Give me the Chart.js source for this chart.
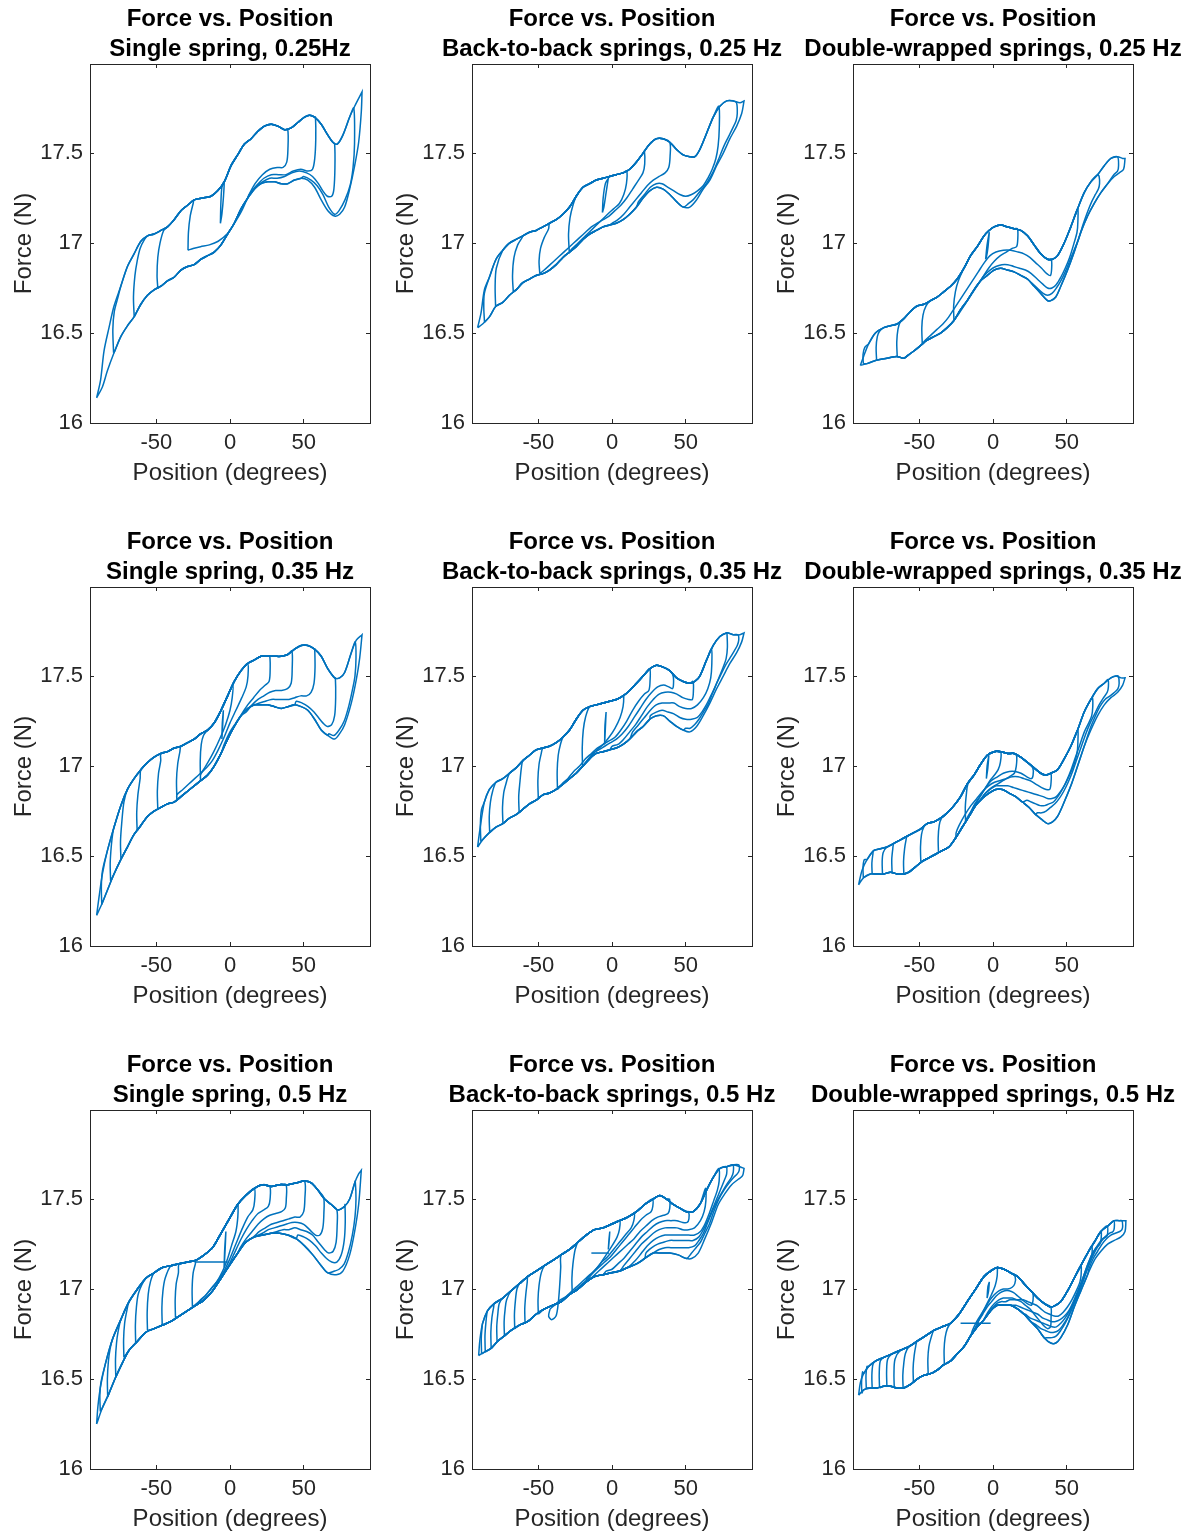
<!DOCTYPE html>
<html>
<head>
<meta charset="utf-8">
<script src="https://cdn.jsdelivr.net/npm/chart.js@4.4.1/dist/chart.umd.min.js"></script>
<style>
html, body { margin: 0; padding: 0; background: #fff; width: 1198px; height: 1532px; overflow: hidden; }
canvas { position: absolute; }
</style>
</head>
<body>
<script>
// Axis ticks and labels shared by every panel
const xTicks = [-50, 0, 50];
const yTicks = [16, 16.5, 17, 17.5];
const mainTitle = 'Force vs. Position';
const xLabel = 'Position (degrees)';
const yLabel = 'Force (N)';
const subTitles = [
  'Single spring, 0.25Hz', 'Back-to-back springs, 0.25 Hz', 'Double-wrapped springs, 0.25 Hz',
  'Single spring, 0.35 Hz', 'Back-to-back springs, 0.35 Hz', 'Double-wrapped springs, 0.35 Hz',
  'Single spring, 0.5 Hz', 'Back-to-back springs, 0.5 Hz', 'Double-wrapped springs, 0.5 Hz'
];

// Each panel: upper branch (left to right), lower branch (left to right),
// and the inner cycles as a rise at the left turn-around plus a drop at the right turn-around.
// [position in degrees, force in N]

// ---- Single spring, 0.25 Hz ----
const upper_s025 = [[-90.5,16.14],[-87.8,16.24],[-85.5,16.40],[-82.1,16.53],[-78.7,16.65],[-74.1,16.76],[-69.6,16.87],[-65.1,16.94],[-60.5,17.01],[-56,17.04],[-51.5,17.05],[-46.9,17.07],[-42.4,17.09],[-37.9,17.13],[-33.3,17.18],[-28.8,17.21],[-24.3,17.24],[-18.6,17.25],[-12.9,17.26],[-8.4,17.29],[-3.9,17.34],[0.7,17.43],[5.2,17.49],[9.8,17.55],[14.3,17.58],[18.8,17.62],[23.4,17.65],[27.9,17.66],[32.4,17.65],[37,17.63],[41.5,17.64],[46,17.67],[50.6,17.70],[54,17.71],[57.4,17.70],[61.9,17.66],[66.4,17.60],[69.8,17.56],[72.8,17.55],[76.6,17.60],[81.2,17.70],[84.6,17.76],[89.6,17.84]];
const lower_s025 = [[-90.5,16.14],[-86.6,16.20],[-83.2,16.29],[-78.7,16.39],[-74.1,16.48],[-69.6,16.54],[-65.1,16.59],[-60.5,16.66],[-56,16.71],[-51.5,16.74],[-46.9,16.76],[-42.4,16.79],[-37.9,16.81],[-33.3,16.85],[-28.8,16.87],[-24.3,16.88],[-19.7,16.91],[-15.2,16.93],[-10.7,16.95],[-6.1,16.99],[-1.6,17.05],[2.9,17.11],[7.5,17.19],[12,17.25],[16.6,17.30],[21.1,17.33],[25.6,17.34],[30.2,17.34],[34.7,17.33],[39.2,17.33],[43.8,17.35],[48.3,17.36],[52.8,17.35],[57.4,17.31],[61.9,17.24],[66.4,17.18],[71,17.15],[74.4,17.16],[77.8,17.20],[81.2,17.30],[84.6,17.43],[87.3,17.56],[89.1,17.73],[89.6,17.84]];
const rises_s025 = [
  [[-79,16.39],[-79.5,16.52],[-78.5,16.62],[-76,16.70]],
  [[-65,16.59],[-65.5,16.70],[-64.5,16.82],[-63,16.90],[-61,16.97],[-58,17.02]],
  [[-49,16.75],[-49.5,16.82],[-49,16.92],[-47.5,17.00],[-45,17.07]],
  [[-28.5,16.96],[-28.2,17.06],[-27,17.15],[-25,17.22]],
  [[-6.5,17.11],[-6.2,17.22],[-5.5,17.31]]
];
const drops_s025 = [
  [[84,17.75],[84.5,17.55],[83.5,17.42],[81.5,17.32],[78,17.24],[74,17.18],[71,17.16],[67,17.20],[63,17.27],[59,17.32],[55,17.35],[50,17.37]],
  [[71,17.55],[71.2,17.42],[70.5,17.30],[69,17.26],[66,17.26],[63,17.29],[60,17.33],[56,17.37],[52,17.39],[47,17.40],[42,17.39],[37,17.37],[32,17.36],[27,17.36],[22,17.34],[17,17.31]],
  [[58,17.70],[58.2,17.58],[57.5,17.47],[56,17.41],[53,17.40],[48,17.41],[43,17.40],[38,17.38],[33,17.38],[28,17.38],[23,17.36],[18,17.32],[13,17.27]],
  [[39.2,17.63],[39.3,17.52],[38.5,17.45],[36,17.42],[32,17.42],[27,17.41],[22,17.38],[17,17.33],[13,17.27],[8,17.18],[3,17.11],[-2,17.05],[-8,17.01],[-14,16.99],[-20,16.98],[-25,16.97],[-28.5,16.96]],
  [[-4,17.34],[-4.5,17.25],[-5.5,17.16],[-6.5,17.11]]
];

// ---- Back-to-back springs, 0.25 Hz ----
const upper_b025 = [[-91.2,16.53],[-88.9,16.61],[-86.6,16.74],[-83.2,16.81],[-78.7,16.91],[-74.1,16.96],[-69.6,17.00],[-65.1,17.02],[-60.5,17.04],[-56,17.06],[-51.5,17.07],[-46.9,17.09],[-42.4,17.11],[-37.9,17.13],[-33.3,17.16],[-28.8,17.20],[-24.3,17.26],[-19.7,17.31],[-15.2,17.33],[-10.7,17.35],[-6.1,17.36],[-1.6,17.37],[2.9,17.38],[7.5,17.39],[12,17.41],[16.6,17.45],[21.1,17.50],[25.6,17.55],[30.2,17.58],[34.7,17.58],[39.2,17.56],[43.8,17.52],[48.3,17.49],[52.8,17.48],[56.2,17.48],[59.6,17.52],[64.2,17.61],[68.7,17.70],[73.2,17.76],[77.8,17.79],[82.3,17.79],[86.8,17.78],[89.6,17.79]];
const lower_b025 = [[-91.2,16.53],[-87.8,16.55],[-83.2,16.59],[-78.7,16.65],[-74.1,16.67],[-69.6,16.71],[-65.1,16.74],[-60.5,16.78],[-56,16.80],[-51.5,16.82],[-46.9,16.83],[-42.4,16.85],[-37.9,16.88],[-33.3,16.92],[-28.8,16.95],[-24.3,16.98],[-19.7,17.02],[-15.2,17.05],[-10.7,17.07],[-6.1,17.09],[-1.6,17.10],[2.9,17.11],[7.5,17.13],[12,17.16],[16.6,17.20],[21.1,17.25],[25.6,17.29],[30.2,17.31],[34.7,17.30],[39.2,17.27],[43.8,17.23],[48.3,17.20],[52.8,17.20],[57.4,17.24],[61.9,17.30],[66.4,17.35],[71,17.43],[75.5,17.50],[80,17.58],[84.6,17.65],[88,17.72],[89.6,17.79]];
const rises_b025 = [
  [[-86.5,16.56],[-87,16.64],[-86.6,16.72]],
  [[-79,16.65],[-79.3,16.76],[-78.5,16.86]],
  [[-67,16.73],[-67.5,16.82],[-66.5,16.92],[-64,16.99],[-61,17.03]],
  [[-49,16.83],[-49.5,16.90],[-48.5,16.97],[-46,17.03],[-43,17.08]],
  [[-29,16.95],[-29.5,17.05],[-28.5,17.14],[-26.5,17.21]],
  [[-6.5,17.17],[-6,17.25],[-4.5,17.33],[-2.5,17.36]]
];
const drops_b025 = [
  [[84.5,17.78],[85,17.72],[84.2,17.68],[82,17.64],[79,17.59],[76,17.54],[73,17.48],[70,17.42],[67,17.37],[64,17.33],[61,17.30],[58,17.27],[55,17.24],[52,17.22]],
  [[72.5,17.76],[72.8,17.64],[72,17.54],[70.5,17.47],[68,17.41],[65,17.36],[62,17.32],[58,17.29],[54,17.27],[50,17.26],[46,17.27],[42,17.29],[38,17.31],[34,17.33],[30,17.33],[26,17.31],[22,17.27],[18,17.23]],
  [[39.2,17.56],[39.4,17.48],[38.5,17.42],[36,17.39],[32,17.37],[28,17.35],[24,17.32],[20,17.28],[16,17.24],[12,17.20],[8,17.16],[4,17.13],[0,17.11]],
  [[22,17.51],[22.2,17.44],[21,17.39],[18,17.35],[14,17.30],[10,17.25],[6,17.21],[2,17.18],[-2,17.15],[-6,17.13],[-10,17.11],[-14,17.09],[-18,17.06],[-22,17.03],[-26,17.00],[-30,16.97],[-34,16.94],[-38,16.91],[-42,16.88],[-46,16.85],[-49,16.83]],
  [[10,17.40],[9.8,17.33],[8,17.27],[5,17.22],[1,17.19],[-3,17.16],[-8,17.12],[-13,17.08],[-18,17.04],[-23,17.00],[-27,16.97],[-29,16.95]],
  [[-2.5,17.36],[-4,17.28],[-5.5,17.20],[-6.5,17.17]]
];

// ---- Double-wrapped springs, 0.25 Hz ----
const upper_d025 = [[-90,16.32],[-87.8,16.37],[-84.4,16.44],[-79.8,16.50],[-74.1,16.53],[-69.6,16.54],[-65.1,16.55],[-60.5,16.58],[-56,16.62],[-51.5,16.65],[-46.9,16.66],[-42.4,16.68],[-37.9,16.70],[-33.3,16.73],[-28.8,16.76],[-24.3,16.80],[-19.7,16.86],[-15.2,16.93],[-10.7,16.98],[-6.1,17.04],[-2.7,17.07],[0.7,17.09],[5.2,17.10],[9.8,17.09],[14.3,17.08],[18.8,17.07],[23.4,17.04],[27.9,16.99],[32.4,16.94],[37,16.91],[40.4,16.91],[43.8,16.93],[48.3,17.00],[52.8,17.09],[57.4,17.19],[61.9,17.28],[66.4,17.34],[71,17.38],[75.5,17.43],[80,17.47],[84.6,17.48],[88,17.47],[89.6,17.47]];
const lower_d025 = [[-90,16.32],[-85.5,16.33],[-78.7,16.35],[-71.9,16.36],[-65.1,16.37],[-60.5,16.36],[-57.1,16.38],[-53.7,16.40],[-49.2,16.43],[-44.7,16.46],[-40.1,16.48],[-35.6,16.50],[-31.1,16.53],[-26.5,16.57],[-22,16.63],[-17.5,16.68],[-12.9,16.74],[-8.4,16.79],[-3.9,16.82],[0.7,16.85],[5.2,16.86],[9.8,16.85],[14.3,16.84],[18.8,16.82],[23.4,16.80],[27.9,16.76],[32.4,16.72],[37,16.68],[39.2,16.68],[42.6,16.70],[46,16.76],[50.6,16.85],[55.1,16.95],[59.6,17.06],[64.2,17.15],[68.7,17.22],[73.2,17.28],[77.8,17.33],[82.3,17.37],[85.7,17.39],[88.6,17.41],[89.6,17.47]];
const rises_d025 = [
  [[-88,16.33],[-88.2,16.38],[-87,16.42]],
  [[-79,16.35],[-79.3,16.42],[-78.5,16.48],[-77,16.51]],
  [[-65,16.37],[-65.3,16.45],[-64.5,16.52],[-63,16.56]],
  [[-48,16.44],[-48.3,16.53],[-47.5,16.60],[-45.5,16.65]],
  [[-26.5,16.57],[-26.7,16.65],[-25.5,16.73],[-23.5,16.79]],
  [[-5,16.91],[-4,16.99],[-2.5,17.06]]
];
const drops_d025 = [
  [[84.5,17.48],[85.2,17.43],[84.5,17.40],[82,17.38]],
  [[72,17.37],[72.3,17.33],[71.5,17.30],[69.5,17.27],[67,17.23],[64,17.17],[61,17.10],[58,17.02],[55,16.96],[52,16.90],[49,16.84],[46,16.79],[43,16.75],[40,16.72],[37,16.71],[34,16.72],[30,16.75],[26,16.78]],
  [[57.4,17.19],[57.6,17.12],[57,17.06],[55,17.00],[52,16.92],[49,16.86],[46,16.81],[43,16.77],[40,16.75],[37,16.75],[34,16.77],[30,16.80],[26,16.83],[22,16.85],[18,16.86],[14,16.87],[10,16.88],[6,16.88],[2,16.87],[-2,16.85],[-6,16.82]],
  [[39.5,16.91],[39.8,16.86],[39,16.82],[36.5,16.83],[33,16.86],[29,16.89],[25,16.92],[21,16.94],[17,16.95],[12,16.96],[7,16.96],[2,16.95],[-2,16.93],[-6,16.89],[-10,16.84],[-14,16.79],[-18,16.74],[-22,16.69],[-26,16.64],[-30,16.59],[-34,16.55],[-38,16.52],[-42,16.49],[-46,16.46],[-48,16.44]],
  [[16.6,17.08],[16.8,17.02],[16,16.98],[13,16.97],[9,16.95],[5,16.93],[1,16.90],[-3,16.86],[-7,16.81],[-11,16.76],[-15,16.71],[-19,16.66],[-23,16.61],[-26.5,16.57]],
  [[-2.5,17.06],[-3.5,16.97],[-4.5,16.92],[-5,16.91]]
];

// ---- Single spring, 0.35 Hz ----
const upper_s035 = [[-90.5,16.17],[-88.9,16.27],[-86.6,16.40],[-83.2,16.53],[-78.7,16.66],[-74.1,16.78],[-69.6,16.87],[-65.1,16.93],[-60.5,16.98],[-56,17.02],[-51.5,17.05],[-46.9,17.07],[-42.4,17.08],[-37.9,17.10],[-33.3,17.11],[-28.8,17.13],[-24.3,17.15],[-19.7,17.18],[-15.2,17.20],[-10.7,17.24],[-6.1,17.31],[-1.6,17.39],[2.9,17.47],[7.5,17.53],[12,17.57],[16.6,17.59],[21.1,17.61],[25.6,17.61],[30.2,17.61],[34.7,17.61],[39.2,17.62],[43.8,17.65],[48.3,17.67],[52.8,17.67],[57.4,17.65],[61.9,17.61],[66.4,17.54],[71,17.49],[74.4,17.49],[77.8,17.52],[82.3,17.63],[85.7,17.70],[89.6,17.73]];
const lower_s035 = [[-90.5,16.17],[-86.6,16.24],[-83.2,16.31],[-78.7,16.40],[-74.1,16.48],[-69.6,16.55],[-65.1,16.62],[-60.5,16.67],[-56,16.72],[-51.5,16.75],[-46.9,16.77],[-42.4,16.79],[-37.9,16.80],[-33.3,16.83],[-28.8,16.86],[-24.3,16.89],[-19.7,16.92],[-15.2,16.95],[-10.7,17.00],[-6.1,17.07],[-1.6,17.15],[2.9,17.22],[7.5,17.28],[12,17.32],[16.6,17.34],[21.1,17.34],[25.6,17.34],[30.2,17.33],[34.7,17.32],[39.2,17.33],[43.8,17.34],[48.3,17.33],[52.8,17.31],[57.4,17.26],[61.9,17.20],[66.4,17.17],[71,17.15],[74.4,17.18],[77.8,17.23],[82.3,17.35],[85.7,17.48],[88,17.60],[89.6,17.73]];
const rises_s035 = [
  [[-87,16.23],[-87.3,16.33],[-86.5,16.42]],
  [[-81,16.36],[-81.3,16.46],[-80.5,16.56],[-79.5,16.63]],
  [[-74,16.48],[-74.3,16.58],[-73.5,16.68],[-72,16.80]],
  [[-63,16.64],[-63.3,16.74],[-62.5,16.84],[-61,16.93]],
  [[-49,16.76],[-49.3,16.86],[-48.5,16.96],[-47,17.03]],
  [[-36,16.81],[-36.3,16.92],[-35.5,17.01],[-34,17.08]],
  [[-20,16.92],[-20.2,17.03],[-19.5,17.12],[-18,17.17]],
  [[-5.5,17.15],[-5.2,17.24],[-4.5,17.31]]
];
const drops_s035 = [
  [[85,17.69],[85.5,17.60],[84.8,17.50],[83,17.42],[80.5,17.33],[77.5,17.25],[74,17.20],[70.5,17.17],[67,17.18]],
  [[71.5,17.49],[71.7,17.38],[71,17.28],[69,17.23],[66,17.22],[63,17.24],[60,17.27],[57,17.30],[53,17.33],[49,17.35],[45,17.36]],
  [[57.5,17.65],[57.7,17.55],[57,17.46],[55,17.41],[52,17.39],[48,17.39],[44,17.38],[40,17.37],[36,17.37],[32,17.37],[28,17.37],[24,17.36],[20,17.35]],
  [[42,17.64],[42.2,17.54],[41.5,17.46],[39,17.43],[35,17.42],[31,17.42],[27,17.41],[23,17.39],[19,17.37],[15,17.34],[11,17.30]],
  [[27,17.61],[27.2,17.52],[26.5,17.47],[24,17.45],[20,17.42],[16,17.38],[12,17.34],[8,17.29],[4,17.24],[0,17.19],[-4,17.12]],
  [[12,17.57],[12.2,17.50],[11,17.44],[8,17.38],[4,17.31],[0,17.24],[-4,17.16],[-8,17.09],[-12,17.03],[-16,16.99],[-20,16.96],[-24,16.93],[-28,16.90],[-32,16.87],[-36,16.84]],
  [[2,17.45],[1.5,17.38],[0,17.31],[-3,17.23],[-7,17.15],[-11,17.08],[-15,17.02],[-18,16.98],[-20,16.95]],
  [[-4.5,17.31],[-5,17.22],[-5.5,17.15]]
];

// ---- Back-to-back springs, 0.35 Hz ----
const upper_b035 = [[-91.2,16.55],[-89.6,16.65],[-86.6,16.80],[-83.2,16.87],[-78.7,16.91],[-74.1,16.93],[-69.6,16.96],[-65.1,16.99],[-60.5,17.03],[-56,17.06],[-51.5,17.09],[-46.9,17.10],[-42.4,17.11],[-37.9,17.13],[-33.3,17.16],[-28.8,17.20],[-24.3,17.26],[-19.7,17.31],[-15.2,17.33],[-10.7,17.34],[-6.1,17.35],[-1.6,17.36],[2.9,17.37],[7.5,17.39],[12,17.42],[16.6,17.46],[21.1,17.50],[25.6,17.54],[30.2,17.56],[34.7,17.55],[39.2,17.53],[43.8,17.49],[48.3,17.47],[52.8,17.46],[56.2,17.47],[59.6,17.50],[64.2,17.59],[68.7,17.67],[73.2,17.72],[77.8,17.74],[82.3,17.73],[86.8,17.73],[89.6,17.74]];
const lower_b035 = [[-91.2,16.55],[-87.8,16.59],[-83.2,16.63],[-78.7,16.66],[-74.1,16.68],[-69.6,16.71],[-65.1,16.73],[-60.5,16.76],[-56,16.79],[-51.5,16.81],[-46.9,16.84],[-42.4,16.85],[-37.9,16.87],[-33.3,16.90],[-28.8,16.93],[-24.3,16.96],[-19.7,17.00],[-15.2,17.04],[-10.7,17.07],[-6.1,17.08],[-1.6,17.09],[2.9,17.10],[7.5,17.12],[12,17.15],[16.6,17.19],[21.1,17.22],[25.6,17.26],[30.2,17.28],[34.7,17.28],[39.2,17.25],[43.8,17.22],[48.3,17.20],[52.8,17.19],[57.4,17.22],[61.9,17.28],[66.4,17.35],[71,17.43],[75.5,17.50],[80,17.57],[84.6,17.63],[88,17.69],[89.6,17.74]];
const rises_b035 = [
  [[-89,16.58],[-89.3,16.68],[-88.5,16.76]],
  [[-83,16.63],[-83.3,16.72],[-82.5,16.80],[-81,16.86]],
  [[-74,16.68],[-74.3,16.77],[-73.5,16.85],[-72,16.90]],
  [[-63,16.74],[-63.3,16.83],[-62.5,16.91],[-61.5,16.99]],
  [[-50,16.82],[-50.3,16.92],[-49.5,17.01],[-48,17.07]],
  [[-37,16.87],[-37.2,16.97],[-36.5,17.06],[-35,17.12]],
  [[-20,17.00],[-20.2,17.10],[-19.5,17.20],[-18,17.27]],
  [[-5,17.12],[-4.8,17.22],[-4,17.30]]
];
const drops_b035 = [
  [[85.5,17.73],[86,17.70],[85,17.67],[83,17.64],[80,17.60],[77,17.56],[74,17.51],[71,17.46],[68,17.40],[65,17.34],[62,17.30],[59,17.26],[56,17.23],[53,17.21],[50,17.21]],
  [[78,17.74],[78.3,17.66],[77.5,17.60],[75.5,17.55],[73,17.50],[70,17.44],[67,17.39],[64,17.34],[61,17.30],[58,17.27],[54,17.26],[50,17.26],[46,17.27],[42,17.29],[38,17.30],[34,17.31],[30,17.30],[26,17.28]],
  [[67.5,17.65],[67.7,17.56],[67,17.49],[65,17.43],[62,17.38],[58,17.34],[54,17.32],[50,17.32],[46,17.33],[42,17.35],[38,17.35],[34,17.35],[30,17.34],[26,17.31],[22,17.27],[18,17.23],[14,17.19]],
  [[55,17.47],[55.2,17.41],[54.5,17.37],[52,17.37],[48,17.38],[44,17.40],[40,17.41],[36,17.41],[32,17.40],[28,17.37],[24,17.33],[20,17.28],[16,17.23],[12,17.19],[8,17.15],[4,17.12],[0,17.11]],
  [[41.5,17.50],[41.7,17.45],[41,17.43],[38.5,17.44],[35,17.45],[31,17.44],[27,17.41],[23,17.37],[19,17.32],[15,17.27],[11,17.22],[7,17.18],[3,17.15],[-1,17.13],[-5,17.11],[-9,17.09],[-13,17.07]],
  [[25.6,17.54],[25.8,17.47],[25,17.42],[22,17.40],[18,17.36],[14,17.31],[10,17.25],[6,17.20],[2,17.16],[-2,17.14],[-6,17.12],[-10,17.10],[-14,17.07],[-18,17.04],[-22,17.00],[-26,16.97],[-30,16.93],[-34,16.90],[-37,16.87]],
  [[8,17.39],[7.5,17.33],[5.5,17.27],[2,17.21],[-2,17.16],[-6,17.12],[-10,17.09],[-14,17.06],[-17,17.03],[-20,17.00]],
  [[-4,17.30],[-4.5,17.21],[-5,17.12]]
];

// ---- Double-wrapped springs, 0.35 Hz ----
const upper_d035 = [[-91.2,16.34],[-88.9,16.42],[-85.5,16.48],[-81,16.53],[-76.4,16.54],[-71.9,16.55],[-67.3,16.57],[-62.8,16.59],[-58.3,16.61],[-53.7,16.63],[-49.2,16.65],[-44.7,16.68],[-40.1,16.69],[-35.6,16.71],[-31.1,16.74],[-26.5,16.78],[-22,16.83],[-17.5,16.90],[-12.9,16.95],[-8.4,17.01],[-3.9,17.06],[0.7,17.08],[5.2,17.08],[9.8,17.07],[14.3,17.07],[18.8,17.05],[23.4,17.02],[27.9,16.99],[32.4,16.96],[35.8,16.95],[39.2,16.96],[43.8,16.98],[48.3,17.04],[52.8,17.11],[57.4,17.20],[61.9,17.30],[66.4,17.37],[71,17.43],[75.5,17.46],[80,17.49],[83.4,17.50],[86.8,17.49],[89.6,17.49]];
const lower_d035 = [[-91.2,16.34],[-87.8,16.38],[-83.2,16.40],[-78.7,16.40],[-74.1,16.40],[-69.6,16.41],[-65.1,16.40],[-60.5,16.40],[-57.1,16.41],[-52.6,16.44],[-48,16.47],[-43.6,16.49],[-39,16.51],[-34.5,16.53],[-30,16.55],[-25.4,16.60],[-20.9,16.66],[-16.3,16.72],[-11.8,16.78],[-7.3,16.82],[-2.7,16.85],[1.8,16.87],[6.3,16.87],[10.9,16.85],[15.4,16.83],[20,16.80],[24.5,16.77],[29,16.73],[33.6,16.70],[37,16.68],[40.4,16.69],[43.8,16.72],[48.3,16.80],[52.8,16.89],[57.4,17.00],[61.9,17.11],[66.4,17.20],[71,17.28],[75.5,17.34],[80,17.38],[84.6,17.41],[88,17.45],[89.6,17.49]];
const rises_d035 = [
  [[-88,16.38],[-88.2,16.44],[-87.3,16.48]],
  [[-82,16.40],[-82.2,16.46],[-81.5,16.51]],
  [[-75,16.40],[-75.2,16.47],[-74.5,16.52]],
  [[-68.5,16.41],[-68.7,16.48],[-68,16.54]],
  [[-60.5,16.40],[-60.7,16.47],[-60,16.54],[-59,16.59]],
  [[-49,16.47],[-49.2,16.55],[-48.5,16.62],[-47,16.66]],
  [[-37,16.52],[-37.2,16.60],[-36.5,16.67],[-35,16.71]],
  [[-18.6,16.69],[-18.8,16.77],[-18,16.85],[-17,16.90]],
  [[-4.5,16.93],[-4,17.00],[-2.8,17.06]]
];
const drops_d035 = [
  [[85,17.50],[85.6,17.46],[84.8,17.43],[82.5,17.41],[79.5,17.39],[76,17.37],[72.5,17.33],[69,17.27],[66,17.21]],
  [[78,17.48],[78.3,17.44],[77.5,17.41],[75,17.38],[72,17.34],[69,17.29],[66,17.24],[63,17.18],[60,17.11],[57,17.04],[54,16.97],[51,16.91],[48,16.86],[45,16.82],[42,16.79],[39,16.77],[36,16.75],[33,16.74],[30,16.74]],
  [[67.5,17.38],[67.7,17.33],[67,17.28],[65,17.24],[62,17.19],[59,17.12],[56,17.05],[53,16.98],[50,16.92],[47,16.87],[44,16.83],[41,16.80],[38,16.79],[35,16.78],[32,16.78],[29,16.79],[26,16.80],[23,16.81]],
  [[57.4,17.20],[57.6,17.13],[57,17.07],[55,17.01],[52,16.95],[49,16.90],[46,16.86],[43,16.83],[40,16.82],[37,16.82],[34,16.83],[30,16.84],[26,16.85],[22,16.86],[18,16.87],[14,16.88],[10,16.89],[6,16.89],[2,16.89],[-2,16.87],[-6,16.84]],
  [[39.2,16.96],[39.4,16.91],[38.5,16.87],[36,16.87],[33,16.88],[29,16.90],[25,16.92],[21,16.93],[17,16.94],[13,16.94],[9,16.93],[5,16.92],[1,16.91],[-3,16.89],[-7,16.86],[-11,16.82],[-15,16.78],[-19,16.73],[-23,16.67],[-25,16.63]],
  [[27,16.99],[27.2,16.95],[26,16.93],[23,16.94],[19,16.96],[15,16.97],[11,16.97],[7,16.96],[3,16.94],[-1,16.92],[-5,16.88],[-9,16.83],[-13,16.78]],
  [[16,17.06],[15.8,17.00],[14.5,16.96],[11,16.94],[7,16.92],[3,16.90],[-1,16.88],[-5,16.85],[-9,16.81]],
  [[5.2,17.08],[5,17.02],[3.5,16.98],[1,16.95],[-2,16.92],[-5,16.88],[-8,16.84],[-11,16.80],[-14,16.76],[-17,16.72],[-18.6,16.69]],
  [[-2.8,17.06],[-3.5,16.99],[-4.5,16.93]]
];

// ---- Single spring, 0.5 Hz ----
const upper_s05 = [[-90.5,16.25],[-89.6,16.35],[-87.8,16.46],[-84.4,16.59],[-79.8,16.72],[-74.1,16.83],[-68.5,16.93],[-62.8,17.00],[-57.1,17.06],[-51.5,17.09],[-45.8,17.12],[-40.1,17.13],[-34.5,17.14],[-28.8,17.15],[-23.1,17.16],[-17.5,17.19],[-11.8,17.23],[-6.1,17.31],[-0.5,17.39],[5.2,17.47],[10.7,17.52],[16.6,17.56],[22.2,17.58],[27.9,17.57],[33.6,17.58],[39.2,17.58],[44.9,17.59],[50.6,17.60],[55.1,17.59],[59.6,17.55],[64.2,17.50],[68.7,17.47],[73.2,17.44],[77.8,17.46],[81.2,17.50],[84.6,17.59],[87.3,17.64],[89.1,17.66]];
const lower_s05 = [[-90.5,16.25],[-86.6,16.34],[-82.1,16.42],[-77.6,16.51],[-73,16.59],[-68.5,16.66],[-62.8,16.71],[-57.1,16.76],[-51.5,16.78],[-45.8,16.80],[-40.1,16.82],[-34.5,16.85],[-28.8,16.88],[-23.1,16.91],[-17.5,16.94],[-11.8,16.99],[-6.1,17.06],[-0.5,17.13],[5.2,17.20],[10.7,17.26],[16.6,17.29],[22.2,17.30],[27.9,17.31],[33.6,17.31],[39.2,17.30],[44.9,17.28],[50.6,17.24],[56.2,17.19],[61.9,17.13],[66.4,17.09],[72.1,17.08],[76.6,17.10],[81.2,17.19],[84.6,17.32],[87.3,17.47],[89.1,17.66]];
const rises_s05 = [
  [[-88,16.32],[-88.3,16.41],[-87.6,16.48]],
  [[-83,16.40],[-83.2,16.50],[-82.5,16.60],[-81.3,16.67]],
  [[-77.5,16.51],[-77.7,16.61],[-77,16.70],[-76,16.76]],
  [[-72,16.62],[-72.2,16.72],[-71.5,16.81],[-70,16.88]],
  [[-64,16.70],[-64.2,16.80],[-63.5,16.90],[-62,16.98]],
  [[-56,16.77],[-56.2,16.87],[-55.5,16.97],[-54,17.04]],
  [[-46,16.80],[-46.2,16.90],[-45.5,16.99],[-44,17.06]],
  [[-37,16.84],[-37.2,16.94],[-36.5,17.03],[-35,17.09]],
  [[-25.5,16.90],[-25.7,17.00],[-25,17.09],[-23.5,17.14]],
  [[-4,17.12],[-3.6,17.22],[-2.8,17.32]]
];
const drops_s05 = [
  [[85,17.60],[85.5,17.50],[84.8,17.40],[83,17.30],[80.5,17.21],[77.5,17.14],[74,17.11],[71,17.10]],
  [[78,17.47],[78.2,17.37],[77.5,17.27],[75.5,17.19],[72.5,17.15],[69,17.15],[65.5,17.17],[62,17.20],[58,17.24],[54,17.27],[50,17.29],[46,17.30]],
  [[72.5,17.44],[72.7,17.35],[72,17.26],[70,17.21],[67,17.20],[64,17.22],[60,17.26],[56,17.30],[52,17.32],[48,17.33],[44,17.34],[40,17.33],[36,17.33],[32,17.32]],
  [[63.5,17.51],[63.7,17.42],[63,17.34],[61,17.30],[58,17.30],[54,17.33],[50,17.36],[46,17.37],[42,17.37],[38,17.36],[34,17.35],[30,17.34],[26,17.33],[22,17.31]],
  [[50.6,17.60],[50.8,17.50],[50,17.43],[47.5,17.40],[44,17.40],[40,17.39],[36,17.38],[32,17.37],[28,17.36],[24,17.34],[20,17.32],[16,17.29]],
  [[38,17.58],[38.2,17.50],[37.5,17.45],[35,17.43],[31,17.42],[27,17.41],[23,17.39],[19,17.36],[15,17.32],[11,17.28],[7,17.23]],
  [[27,17.57],[27.2,17.50],[26,17.46],[23,17.44],[19,17.42],[15,17.38],[11,17.33],[7,17.27],[3,17.20],[-1,17.13]],
  [[16.5,17.56],[16.7,17.49],[15.5,17.44],[12,17.40],[8,17.33],[4,17.25],[0,17.17],[-4,17.10],[-8,17.05],[-12,17.01],[-16,16.97],[-20,16.94]],
  [[5.5,17.47],[5.3,17.40],[4,17.32],[1,17.24],[-2,17.16],[-5,17.10],[-9,17.04],[-13,17.00],[-17,16.96],[-21,16.93],[-25.5,16.90]],
  [[-2.8,17.32],[-3.3,17.22],[-4,17.12]]
];
const flat_s05 = [[-24,17.15],[-1.5,17.15]];

// ---- Back-to-back springs, 0.5 Hz ----
const upper_b05 = [[-90.5,16.63],[-89.6,16.72],[-87.8,16.81],[-84.4,16.88],[-79.8,16.92],[-74.1,16.95],[-68.5,16.99],[-62.8,17.03],[-57.1,17.07],[-51.5,17.10],[-45.8,17.13],[-40.1,17.16],[-34.5,17.19],[-28.8,17.22],[-23.1,17.26],[-17.5,17.30],[-11.8,17.33],[-6.1,17.34],[-0.5,17.36],[5.2,17.38],[10.7,17.40],[16.6,17.43],[22.2,17.47],[27.9,17.50],[32.4,17.52],[37,17.50],[41.5,17.47],[46,17.45],[50.6,17.43],[55.1,17.43],[59.6,17.47],[64.2,17.55],[68.7,17.62],[73.2,17.67],[77.8,17.68],[82.3,17.69],[86.8,17.68],[89.6,17.67]];
const lower_b05 = [[-90.5,16.63],[-86.6,16.65],[-82.1,16.67],[-77.6,16.71],[-73,16.74],[-68.5,16.77],[-62.8,16.80],[-57.1,16.82],[-51.5,16.86],[-45.8,16.89],[-40.1,16.91],[-34.5,16.93],[-28.8,16.97],[-23.1,17.00],[-17.5,17.04],[-11.8,17.07],[-6.1,17.08],[-0.5,17.09],[5.2,17.10],[10.7,17.12],[16.6,17.14],[22.2,17.17],[27.9,17.20],[33.6,17.20],[39.2,17.20],[44.9,17.19],[50.6,17.17],[54,17.17],[58.5,17.20],[63,17.28],[67.6,17.37],[72.1,17.47],[76.6,17.53],[81.2,17.58],[85.7,17.61],[88.6,17.63],[89.6,17.67]];
const rises_b05 = [
  [[-88.5,16.64],[-88.7,16.73],[-88,16.80]],
  [[-86,16.65],[-86.2,16.74],[-85.5,16.82],[-84.8,16.87]],
  [[-82,16.67],[-82.2,16.76],[-81.5,16.84],[-80.3,16.90]],
  [[-78,16.71],[-78.2,16.79],[-77.5,16.86],[-76.5,16.92]],
  [[-73,16.74],[-73.2,16.82],[-72.5,16.89],[-71.5,16.94]],
  [[-66,16.78],[-66.2,16.86],[-65.5,16.94],[-64.5,17.00]],
  [[-59,16.81],[-59.2,16.89],[-58.5,16.97],[-57.5,17.04]],
  [[-50,16.86],[-50.2,16.94],[-49.5,17.02],[-48,17.09]],
  [[-42,16.89],[-43,16.85],[-41,16.83],[-38,16.85],[-36.5,16.92],[-35.5,17.02],[-34.8,17.12]],
  [[-27,16.98],[-27.2,17.06],[-26.5,17.14],[-25,17.22]],
  [[-2.5,17.22],[-2,17.28],[-1.5,17.32]]
];
const drops_b05 = [
  [[86,17.69],[86.3,17.66],[85,17.64],[82.5,17.62],[79.5,17.59],[76,17.55],[72.5,17.50],[69,17.43],[66,17.36],[63,17.31],[60,17.26],[57,17.23],[54,17.20]],
  [[82,17.69],[82.3,17.65],[81,17.62],[78.5,17.59],[75.5,17.55],[72,17.50],[68.5,17.44],[65,17.37],[62,17.31],[59,17.27],[56,17.24],[52,17.23],[48,17.23],[44,17.23],[40,17.23],[36,17.23],[32,17.22]],
  [[77.5,17.68],[77.8,17.64],[76.5,17.61],[74,17.56],[71,17.50],[68,17.44],[65,17.38],[62,17.33],[59,17.29],[55,17.27],[51,17.27],[47,17.27],[43,17.27],[39,17.27],[35,17.26],[31,17.25],[27,17.23],[23,17.20]],
  [[72.5,17.67],[72.7,17.60],[71.5,17.55],[69,17.49],[66,17.42],[63,17.36],[60,17.32],[56,17.30],[52,17.30],[48,17.30],[44,17.30],[40,17.30],[36,17.30],[32,17.29],[28,17.27],[24,17.24],[20,17.20],[16,17.16]],
  [[63.5,17.56],[63.7,17.49],[62.5,17.43],[60,17.38],[56,17.34],[52,17.33],[48,17.33],[44,17.34],[40,17.34],[36,17.34],[32,17.33],[28,17.31],[24,17.28],[20,17.25],[16,17.21],[12,17.17],[8,17.13]],
  [[52,17.43],[52.2,17.39],[51,17.37],[48,17.37],[44,17.38],[40,17.38],[36,17.38],[32,17.37],[28,17.35],[24,17.32],[20,17.29],[16,17.25],[12,17.21],[8,17.17],[4,17.14],[0,17.11],[-4,17.10]],
  [[39,17.50],[39.2,17.45],[38,17.42],[35,17.41],[31,17.40],[27,17.38],[23,17.35],[19,17.32],[15,17.28],[11,17.25],[7,17.22],[3,17.19],[-1,17.16],[-5,17.13],[-9,17.10],[-13,17.07]],
  [[27.5,17.50],[27.7,17.46],[26.5,17.43],[23,17.41],[19,17.38],[15,17.34],[11,17.30],[7,17.26],[3,17.22],[-1,17.18],[-5,17.15],[-9,17.12],[-13,17.09],[-17,17.06]],
  [[15,17.42],[14.8,17.38],[13,17.34],[9,17.30],[5,17.26],[1,17.22],[-3,17.18],[-7,17.15],[-11,17.11],[-15,17.08],[-19,17.05],[-23,17.02],[-27,16.99],[-31,16.96],[-35,16.94],[-39,16.91],[-42,16.89]],
  [[5.2,17.38],[5,17.33],[3.5,17.29],[0,17.24],[-4,17.19],[-8,17.14],[-12,17.10],[-16,17.06],[-20,17.03],[-24,17.00],[-27,16.98]],
  [[-1.5,17.32],[-2,17.26],[-2.5,17.22]]
];
const flat_b05 = [[-14,17.20],[-2,17.20]];

// ---- Double-wrapped springs, 0.5 Hz ----
const upper_d05 = [[-91.2,16.41],[-90,16.48],[-87.8,16.53],[-84.4,16.57],[-79.8,16.60],[-74.1,16.62],[-68.5,16.64],[-62.8,16.66],[-57.1,16.68],[-51.5,16.71],[-45.8,16.74],[-40.1,16.77],[-34.5,16.79],[-28.8,16.81],[-23.1,16.86],[-17.5,16.93],[-11.8,17.00],[-6.1,17.07],[-1.6,17.10],[2.9,17.12],[7.5,17.11],[12,17.09],[16.6,17.07],[21.1,17.03],[25.6,16.99],[30.2,16.95],[34.7,16.92],[39.2,16.90],[42.6,16.91],[46,16.93],[50.6,16.99],[55.1,17.06],[59.6,17.13],[64.2,17.20],[68.7,17.26],[73.2,17.32],[77.8,17.35],[82.3,17.38],[85.7,17.38],[90.2,17.38]];
const lower_d05 = [[-91.2,16.41],[-87.8,16.44],[-83.2,16.45],[-78.7,16.45],[-74.1,16.46],[-69.6,16.46],[-65.1,16.45],[-60.5,16.45],[-56,16.47],[-51.5,16.50],[-47,16.52],[-42.4,16.53],[-37.9,16.55],[-33.3,16.58],[-28.8,16.60],[-24.3,16.64],[-19.7,16.68],[-15.2,16.74],[-10.7,16.79],[-6.1,16.83],[-1.6,16.88],[2.9,16.91],[7.5,16.91],[12,16.91],[16.6,16.89],[21.1,16.86],[25.6,16.82],[30.2,16.78],[34.7,16.73],[39.2,16.70],[42.6,16.70],[46,16.73],[50.6,16.80],[55.1,16.90],[59.6,16.99],[64.2,17.08],[68.7,17.16],[73.2,17.21],[77.8,17.25],[82.3,17.27],[86.8,17.29],[89.6,17.32],[90.2,17.38]];
const rises_d05 = [
  [[-89,16.42],[-89.2,16.48],[-88.5,16.54]],
  [[-86,16.45],[-86.2,16.52],[-85.5,16.57]],
  [[-82,16.45],[-82.2,16.52],[-81.5,16.58]],
  [[-77,16.45],[-77.2,16.53],[-76.5,16.60]],
  [[-72,16.46],[-72.2,16.54],[-71.5,16.61]],
  [[-67,16.45],[-67.2,16.53],[-66.5,16.61]],
  [[-61,16.45],[-61.2,16.52],[-60.5,16.59],[-59.5,16.64]],
  [[-54,16.48],[-54.2,16.56],[-53.5,16.63],[-52.5,16.68]],
  [[-44,16.53],[-44.2,16.61],[-43.5,16.68],[-42,16.73]],
  [[-33,16.58],[-33.2,16.66],[-32.5,16.73],[-31,16.78]],
  [[-4,16.95],[-3.5,17.01],[-2.5,17.04]]
];
const drops_d05 = [
  [[87.5,17.38],[88,17.35],[87.5,17.33],[86,17.32],[83,17.31],[80,17.30],[77,17.28],[74,17.25],[71,17.21],[68,17.17],[65,17.11]],
  [[82,17.38],[82.3,17.34],[81.5,17.32],[79,17.31],[76,17.29],[73,17.26],[70,17.22],[67,17.17],[64,17.11],[61,17.04],[58,16.97],[55,16.92],[52,16.86],[49,16.81],[46,16.77],[43,16.74],[40,16.73],[37,16.73]],
  [[77.5,17.35],[77.8,17.31],[77,17.29],[74.5,17.28],[71.5,17.25],[68.5,17.21],[65.5,17.15],[62.5,17.08],[59.5,17.01],[56.5,16.95],[53.5,16.89],[50.5,16.84],[47.5,16.80],[44.5,16.77],[41.5,16.76],[38.5,16.76],[35.5,16.77],[32.5,16.78],[29.5,16.80]],
  [[73.2,17.32],[73.4,17.28],[72.5,17.25],[70,17.23],[67,17.19],[64,17.13],[61,17.06],[58,16.99],[55,16.93],[52,16.88],[49,16.84],[46,16.81],[43,16.79],[40,16.79],[37,16.80],[34,16.81],[31,16.82],[28,16.83],[25,16.84],[22,16.86]],
  [[67,17.24],[67.2,17.20],[66,17.17],[63.5,17.12],[60.5,17.05],[57.5,16.99],[54.5,16.93],[51.5,16.88],[48.5,16.85],[45.5,16.83],[42.5,16.82],[39.5,16.82],[36.5,16.83],[33.5,16.84],[30.5,16.86],[27.5,16.87],[24.5,16.88],[21.5,16.89],[18.5,16.90],[15.5,16.91]],
  [[59.6,17.13],[59.8,17.08],[59,17.04],[56.5,16.99],[53.5,16.94],[50.5,16.90],[47.5,16.87],[44.5,16.85],[41.5,16.85],[38.5,16.86],[35.5,16.87],[32.5,16.89],[29.5,16.91],[26.5,16.92],[23.5,16.93],[20.5,16.94],[17.5,16.94],[14.5,16.94],[11.5,16.94],[8.5,16.93],[5.5,16.93],[2.5,16.92]],
  [[39.2,16.90],[39.4,16.84],[39,16.79],[37,16.78],[34,16.80],[31,16.83],[28,16.86],[25,16.89],[22,16.91],[19,16.93],[16,16.94],[13,16.95],[10,16.95],[7,16.95],[4,16.94],[1,16.92],[-2,16.89],[-5,16.85]],
  [[27,16.98],[27.2,16.94],[26,16.91],[23,16.92],[20,16.94],[17,16.96],[14,16.98],[11,16.99],[8,16.99],[5,16.98],[2,16.96],[-1,16.93],[-4,16.90],[-7,16.86],[-10,16.82]],
  [[15,17.07],[14.8,17.03],[13,17.01],[10,17.00],[7,17.00],[4,16.99],[1,16.97],[-2,16.94],[-5,16.90],[-8,16.86],[-11,16.82],[-14,16.77]],
  [[3,17.12],[2.8,17.07],[1.5,17.02],[-1,16.97],[-4,16.92],[-7,16.87],[-10,16.82],[-13,16.77]],
  [[-2.5,17.04],[-3,16.99],[-4,16.95]]
];
const flat_d05 = [[-22,16.81],[-1.6,16.81]];

const panels = [
  { upper: upper_s025, lower: lower_s025, rises: rises_s025, drops: drops_s025, flat: null },
  { upper: upper_b025, lower: lower_b025, rises: rises_b025, drops: drops_b025, flat: null },
  { upper: upper_d025, lower: lower_d025, rises: rises_d025, drops: drops_d025, flat: null },
  { upper: upper_s035, lower: lower_s035, rises: rises_s035, drops: drops_s035, flat: null },
  { upper: upper_b035, lower: lower_b035, rises: rises_b035, drops: drops_b035, flat: null },
  { upper: upper_d035, lower: lower_d035, rises: rises_d035, drops: drops_d035, flat: null },
  { upper: upper_s05,  lower: lower_s05,  rises: rises_s05,  drops: drops_s05,  flat: flat_s05 },
  { upper: upper_b05,  lower: lower_b05,  rises: rises_b05,  drops: drops_b05,  flat: flat_b05 },
  { upper: upper_d05,  lower: lower_d05,  rises: rises_d05,  drops: drops_d05,  flat: flat_d05 }
];

// An inner cycle: rise at the left turn-around, along the upper branch,
// drop at the right turn-around, then back along the lower branch.
function cyclePath(upper, lower, rise, drop) {
  const riseStart = rise[0][0];
  const riseEnd = rise[rise.length - 1][0];
  const dropStart = drop[0][0];
  const dropEnd = drop[drop.length - 1][0];
  const top = upper.filter(p => p[0] > riseEnd && p[0] < dropStart);
  const bottom = lower.filter(p => p[0] < dropEnd && p[0] > riseStart).reverse();
  return rise.concat(top, drop, bottom, [rise[0]]);
}

const BLUE = 'rgb(0,114,189)';
const AXIS = '#262626';
const FONT = "'Liberation Sans', Arial, Helvetica, sans-serif";
Chart.defaults.font.family = FONT;

const colLeft = [0, 382, 763];
const rowTop = [0, 523, 1046];

function setTicks(list) {
  return scale => { scale.ticks = list.map(v => ({ value: v })); };
}

panels.forEach((panel, i) => {
  const canvas = document.createElement('canvas');
  canvas.width = 460;
  canvas.height = 493;
  canvas.style.left = colLeft[i % 3] + 'px';
  canvas.style.top = rowTop[Math.floor(i / 3)] + 'px';
  document.body.appendChild(canvas);

  const curves = [panel.upper.concat(panel.lower.slice().reverse())];
  panel.rises.forEach((rise, k) => curves.push(cyclePath(panel.upper, panel.lower, rise, panel.drops[k])));
  if (panel.flat) curves.push(panel.flat);

  const datasets = curves.map(pts => ({
    data: pts.map(p => ({ x: p[0], y: p[1] })),
    showLine: true,
    borderColor: BLUE,
    borderWidth: 1.5,
    pointRadius: 0,
    tension: 0.3,
    fill: false
  }));

  const tickGrid = { display: true, drawOnChartArea: false, drawTicks: true, tickLength: -4, color: AXIS, lineWidth: 1 };
  const border = { display: true, color: AXIS, width: 1 };

  new Chart(canvas, {
    type: 'scatter',
    data: { datasets },
    options: {
      responsive: false,
      animation: false,
      events: [],
      layout: { padding: 0 },
      plugins: {
        legend: { display: false },
        tooltip: { enabled: false },
        title: {
          display: true,
          text: [mainTitle, subTitles[i]],
          color: '#000',
          font: { size: 24, weight: 'bold', lineHeight: 1.25 },
          padding: { top: 4, bottom: 0 }
        }
      },
      scales: {
        x: {
          type: 'linear', position: 'bottom', min: -95, max: 95,
          afterBuildTicks: setTicks(xTicks),
          afterFit: s => { s.height = 70; },
          ticks: { color: AXIS, font: { size: 22 }, padding: 11, maxRotation: 0, autoSkip: false, callback: v => String(v) },
          grid: tickGrid, border,
          title: { display: true, text: xLabel, color: AXIS, font: { size: 24 }, padding: { top: 0, bottom: 5 } }
        },
        x2: {
          type: 'linear', position: 'top', min: -95, max: 95,
          afterBuildTicks: setTicks(xTicks),
          afterFit: s => { s.height = 0; },
          ticks: { display: false },
          grid: tickGrid, border
        },
        y: {
          type: 'linear', position: 'left', min: 16, max: 17.995,
          afterBuildTicks: setTicks(yTicks),
          afterFit: s => { s.width = 90; },
          ticks: { color: AXIS, font: { size: 22 }, padding: 11, autoSkip: false, callback: v => String(v) },
          grid: tickGrid, border,
          title: { display: true, text: yLabel, color: AXIS, font: { size: 24 }, padding: { top: 10, bottom: 0 } }
        },
        y2: {
          type: 'linear', position: 'right', min: 16, max: 17.995,
          afterBuildTicks: setTicks(yTicks),
          afterFit: s => { s.width = 90; },
          ticks: { display: false },
          grid: tickGrid, border
        }
      }
    }
  });
});
</script>
</body>
</html>
